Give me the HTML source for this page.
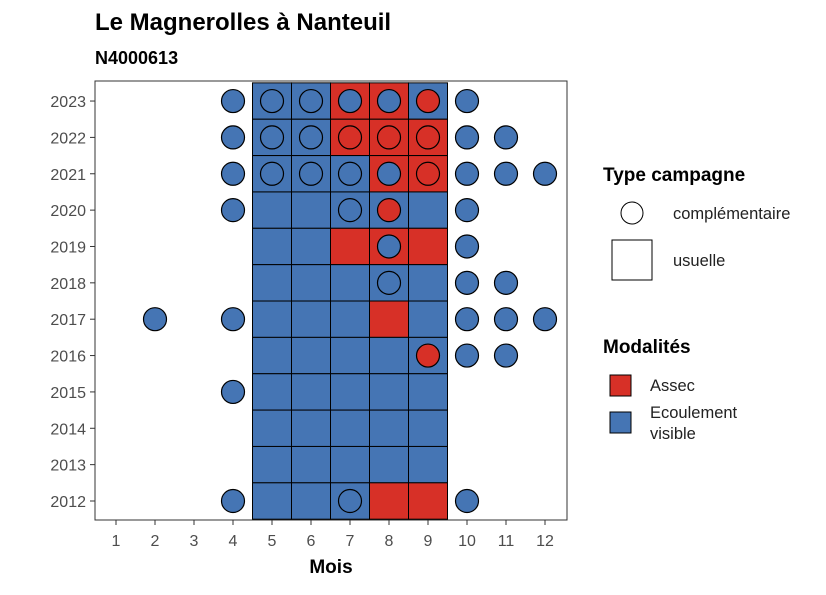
<!DOCTYPE html>
<html><head><meta charset="utf-8"><style>body{margin:0;background:#fff}svg{font-family:"Liberation Sans",sans-serif}</style></head>
<body>
<svg id="c" width="826" height="590">
<text x="95" y="30" font-size="24" font-weight="bold">Le Magnerolles à Nanteuil</text>
<text x="95" y="64" font-size="18" font-weight="bold">N4000613</text>
<g id="plot"></g>
<text x="331" y="573" font-size="19" font-weight="bold" text-anchor="middle">Mois</text>
<g>
<text x="603" y="181" font-size="19" font-weight="bold">Type campagne</text>
<circle cx="632" cy="213" r="11" fill="#fff" stroke="#000"/>
<text x="673" y="219" font-size="16.5" fill="#222">complémentaire</text>
<rect x="612" y="240" width="40" height="40" fill="#fff" stroke="#000"/>
<text x="673" y="266" font-size="16.5" fill="#222">usuelle</text>
<text x="603" y="353" font-size="19" font-weight="bold">Modalités</text>
<rect x="610" y="375" width="21" height="21" fill="#d73027" stroke="#000"/>
<text x="650" y="391" font-size="16.5" fill="#222">Assec</text>
<rect x="610" y="412" width="21" height="21" fill="#4575b4" stroke="#000"/>
<text x="650" y="418" font-size="16.5" fill="#222">Ecoulement</text>
<text x="650" y="439" font-size="16.5" fill="#222">visible</text>
</g>
</svg>
<script>
const years=[2012,2013,2014,2015,2016,2017,2018,2019,2020,2021,2022,2023];
const months=[1,2,3,4,5,6,7,8,9,10,11,12];
const tileYears=[2023,2022,2021,2020,2019,2018,2017,2016,2015,2014,2013,2012];
const tileValues=[
"EEAAE","EEAAA","EEEAA","EEEEE","EEAAA","EEEEE","EEEAE","EEEEE","EEEEE","EEEEE","EEEEE","EEEAA"];
const tileMonths=[5,6,7,8,9];
const pointYears=[2023,2022,2021,2020,2019,2018,2017,2016,2015,2012];
const pointMonths=[[4,5,6,7,8,9,10],[4,5,6,7,8,9,10,11],[4,5,6,7,8,9,10,11,12],[4,7,8,10],[8,10],[8,10,11],[2,4,10,11,12],[9,10,11],[4],[4,7,10]];
const pointValues=["EEEEEAE","EEEAAAEE","EEEEEAEEE","EEAE","EE","EEE","EEEEE","AEE","E","EEE"];
const col={A:"#d73027",E:"#4575b4"};
const ns="http://www.w3.org/2000/svg";
const g=document.getElementById('plot');
const x=m=>116+(m-1)*39, y=yr=>501-(yr-2012)*36.36;
function mk(t,a){const e=document.createElementNS(ns,t);for(const k in a)e.setAttribute(k,a[k]);g.appendChild(e);return e;}
let b=mk('rect',{x:95,y:81,width:472,height:439,fill:'#fff',stroke:'#333'});


tileYears.forEach((yr,i)=>tileMonths.forEach((m,j)=>{
 const r=mk('rect',{x:x(m)-19.5,y:y(yr)-18.18,width:39,height:36.36,fill:col[tileValues[i][j]],stroke:'#000'});
 
 
}));
pointYears.forEach((yr,i)=>pointMonths[i].forEach((m,j)=>{
 const c=mk('circle',{cx:x(m),cy:y(yr),r:11.5,fill:col[pointValues[i][j]],stroke:'#000','stroke-width':1.2});
 
 
}));
months.forEach(m=>{
 mk('line',{x1:x(m),x2:x(m),y1:520,y2:525,stroke:'#333'});
 const t=mk('text',{x:x(m),y:546,'font-size':16,fill:'#4d4d4d','text-anchor':'middle'});t.textContent=m;
 
 
});
years.forEach(yr=>{
 mk('line',{x1:90,x2:95,y1:y(yr),y2:y(yr),stroke:'#333'});
 const t=mk('text',{x:86,y:y(yr)+6,'font-size':16,fill:'#4d4d4d','text-anchor':'end'});t.textContent=yr;
 
 
});
</script>
</body></html>
